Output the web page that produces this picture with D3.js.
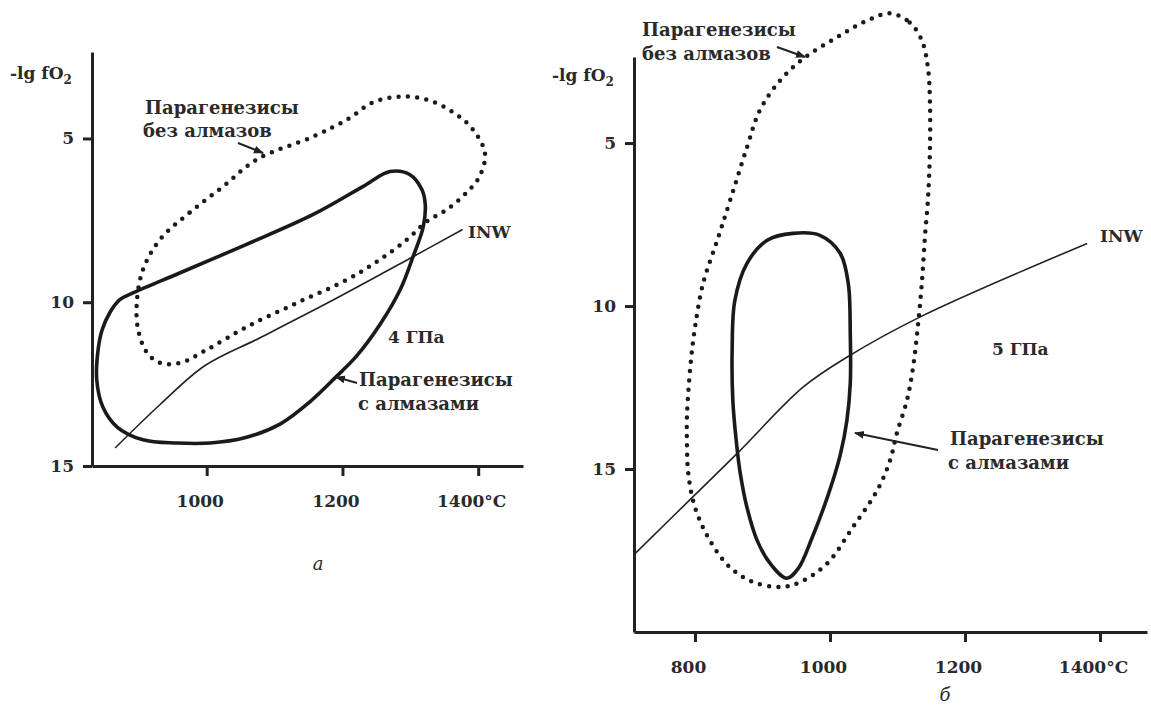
<!DOCTYPE html>
<html>
<head>
<meta charset="utf-8">
<script src="https://cdn.jsdelivr.net/npm/d3@7"></script>
<style>
  body { margin: 0; background: #fff; }
  svg text { font-family: "DejaVu Serif", "Liberation Serif", serif; fill: #2a2a2a; }
</style>
</head>
<body>
<div id="chart"></div>
<script>
// Ticks
var tempTicksA = [1000, 1200, 1400];
var tempTicksB = [800, 1000, 1200, 1400];
var fo2Ticks = [5, 10, 15];

// Panel a (4 GPa): [T, -lg fO2]
var withDiamondsA = [
  [892, 9.71], [961, 9.10], [1058, 8.24], [1157, 7.32], [1230, 6.47], [1270, 6.01],
  [1299, 6.10], [1317, 6.56], [1322, 7.02], [1319, 7.70], [1304, 8.61], [1285, 9.62],
  [1255, 10.69], [1221, 11.64], [1189, 12.31], [1152, 13.04], [1108, 13.72], [1056, 14.14],
  [1005, 14.30], [956, 14.30], [906, 14.20], [868, 13.81], [847, 13.20], [838, 12.37],
  [840, 11.45], [846, 10.84], [858, 10.29], [872, 9.92]
];
var noDiamondsA = [
  [931, 8.09], [975, 7.26], [1024, 6.47], [1074, 5.64], [1157, 4.94], [1207, 4.42],
  [1245, 3.90], [1285, 3.72], [1324, 3.81], [1363, 4.20], [1392, 4.72], [1410, 5.46],
  [1402, 6.16], [1383, 6.65], [1354, 7.17], [1324, 7.54], [1295, 8.09], [1255, 8.70],
  [1207, 9.31], [1133, 10.02], [1059, 10.75], [1000, 11.45], [961, 11.85], [931, 11.85],
  [912, 11.54], [899, 10.84], [897, 10.02], [906, 9.01]
];
var inwA = [
  [865, 14.45], [931, 13.13], [997, 11.94], [1078, 11.09], [1182, 9.98], [1304, 8.61], [1377, 7.78]
];

// Panel b (5 GPa)
var withDiamondsB = [
  [945, 7.77], [985, 7.83], [1015, 8.38], [1027, 9.30], [1030, 10.84], [1030, 12.37],
  [1025, 13.51], [1015, 14.58], [997, 15.81], [973, 17.13], [953, 18.05],
  [936, 18.35], [911, 17.89], [892, 17.19], [877, 16.18], [867, 15.13], [861, 14.12],
  [856, 12.89], [855, 11.36], [859, 9.83], [877, 8.69], [907, 7.98]
];
var noDiamondsB = [
  [1089, 1.02], [1118, 1.30], [1136, 1.85], [1145, 2.68], [1148, 3.69], [1148, 5.22],
  [1145, 6.76], [1141, 7.77], [1136, 9.30], [1130, 10.65], [1123, 11.88], [1114, 12.89],
  [1099, 13.90], [1089, 14.73], [1070, 15.65], [1034, 16.78], [996, 17.89], [956, 18.47],
  [926, 18.62], [886, 18.47], [852, 18.02], [822, 17.19], [800, 16.18], [790, 15.13],
  [788, 14.12], [788, 13.41], [793, 11.88], [800, 10.65], [812, 9.30], [833, 7.98],
  [852, 6.76], [877, 5.13], [896, 4.00], [926, 3.08], [963, 2.37], [1010, 1.76], [1055, 1.24]
];
var inwB = [
  [710, 17.62], [796, 15.87], [864, 14.49], [960, 12.49], [1025, 11.57], [1133, 10.34], [1381, 8.08]
];

var svg = d3.select("#chart")
  .append("svg")
    .attr("width", 1151)
    .attr("height", 707);

// arrow head
svg.append("defs").append("marker")
    .attr("id", "arr")
    .attr("viewBox", "0 0 10 10")
    .attr("refX", 9).attr("refY", 5)
    .attr("markerWidth", 5).attr("markerHeight", 5)
    .attr("markerUnits", "strokeWidth")
    .attr("orient", "auto")
  .append("path")
    .attr("d", "M0,1 L10,5 L0,9 Z")
    .attr("fill", "#222");

function fmtT(d) { return d === 1400 ? "1400°C" : d; }

function drawPanel(p) {
  var x = d3.scaleLinear().domain(p.xDomain).range(p.xRange);
  var y = d3.scaleLinear().domain(p.yDomain).range(p.yRange);
  var g = svg.append("g");

  // X axis
  var xAxis = g.append("g")
    .attr("transform", "translate(0," + p.yRange[1] + ")")
    .call(d3.axisBottom(x).tickValues(p.xTicks).tickSize(10).tickSizeOuter(0).tickFormat(fmtT));
  xAxis.select(".domain").attr("stroke-width", 3).attr("stroke", "#222");
  xAxis.selectAll(".tick line").attr("stroke-width", 3).attr("stroke", "#222");
  xAxis.selectAll(".tick text")
    .attr("y", 41).attr("dy", 0).attr("dx", -7)
    .attr("font-size", 17).attr("font-weight", "bold")
    .attr("font-family", "DejaVu Serif").attr("fill", "#2a2a2a");

  // Y axis
  var yAxis = g.append("g")
    .attr("transform", "translate(" + p.xRange[0] + ",0)")
    .call(d3.axisLeft(y).tickValues(fo2Ticks).tickSize(9).tickSizeOuter(0).tickPadding(9));
  yAxis.select(".domain").attr("stroke-width", 3).attr("stroke", "#222");
  yAxis.selectAll(".tick line").attr("stroke-width", 3).attr("stroke", "#222");
  yAxis.selectAll(".tick text")
    .attr("font-size", 17).attr("font-weight", "bold")
    .attr("font-family", "DejaVu Serif").attr("fill", "#2a2a2a");

  // Y label
  var yl = g.append("text")
    .attr("x", p.yLabel[0]).attr("y", p.yLabel[1])
    .attr("font-size", 17).attr("font-weight", "bold");
  yl.append("tspan").text("-lg fO");
  yl.append("tspan").attr("dy", 5).attr("font-size", 12).text("2");

  var closed = d3.line()
    .x(function(d) { return x(d[0]); })
    .y(function(d) { return y(d[1]); })
    .curve(d3.curveCatmullRomClosed.alpha(0.5));
  var open = d3.line()
    .x(function(d) { return x(d[0]); })
    .y(function(d) { return y(d[1]); })
    .curve(d3.curveCatmullRom.alpha(0.5));

  g.append("path").datum(p.inw)
    .attr("d", open).attr("fill", "none")
    .attr("stroke", "#222").attr("stroke-width", 1.6);

  g.append("path").datum(p.noDiamonds)
    .attr("d", closed).attr("fill", "none")
    .attr("stroke", "#1a1a1a").attr("stroke-width", 4.5)
    .attr("stroke-linecap", "round")
    .attr("stroke-dasharray", "0 9.3");

  g.append("path").datum(p.withDiamonds)
    .attr("d", closed).attr("fill", "none")
    .attr("stroke", "#1a1a1a").attr("stroke-width", 3.6);

  // labels
  p.labels.forEach(function(l) {
    g.append("text")
      .attr("x", l.x).attr("y", l.y)
      .attr("font-size", l.size || 18)
      .attr("font-weight", l.italic ? "normal" : "bold")
      .attr("font-style", l.italic ? "italic" : "normal")
      .attr("text-anchor", l.anchor || "start")
      .text(l.t);
  });

  p.arrows.forEach(function(a) {
    g.append("line")
      .attr("x1", a[0]).attr("y1", a[1]).attr("x2", a[2]).attr("y2", a[3])
      .attr("stroke", "#222").attr("stroke-width", 2)
      .attr("marker-end", "url(#arr)");
  });
}

drawPanel({
  xDomain: [831, 1466], xRange: [92, 523],
  yDomain: [2.36, 15], yRange: [52, 466],
  xTicks: tempTicksA,
  yLabel: [10, 79],
  withDiamonds: withDiamondsA, noDiamonds: noDiamondsA, inw: inwA,
  labels: [
    { t: "Парагенезисы", x: 145, y: 114 },
    { t: "без алмазов", x: 143, y: 137 },
    { t: "INW", x: 468, y: 238, size: 17 },
    { t: "4 ГПа", x: 388, y: 343, size: 17 },
    { t: "Парагенезисы", x: 359, y: 386 },
    { t: "с алмазами", x: 358, y: 410 },
    { t: "а", x: 318, y: 570, italic: true, anchor: "middle" }
  ],
  arrows: [[238, 143, 263, 153], [357, 383, 336, 377]]
});

drawPanel({
  xDomain: [709.6, 1469.6], xRange: [634, 1147],
  yDomain: [2.36, 20], yRange: [57, 632],
  xTicks: tempTicksB,
  yLabel: [552, 81],
  withDiamonds: withDiamondsB, noDiamonds: noDiamondsB, inw: inwB,
  labels: [
    { t: "Парагенезисы", x: 642, y: 36 },
    { t: "без алмазов", x: 642, y: 60 },
    { t: "INW", x: 1100, y: 242, size: 17 },
    { t: "5 ГПа", x: 992, y: 355, size: 17 },
    { t: "Парагенезисы", x: 950, y: 445 },
    { t: "с алмазами", x: 948, y: 469 },
    { t: "б", x: 945, y: 701, italic: true, anchor: "middle" }
  ],
  arrows: [[777, 47, 805, 57], [938, 450, 855, 433]]
});
</script>
</body>
</html>
